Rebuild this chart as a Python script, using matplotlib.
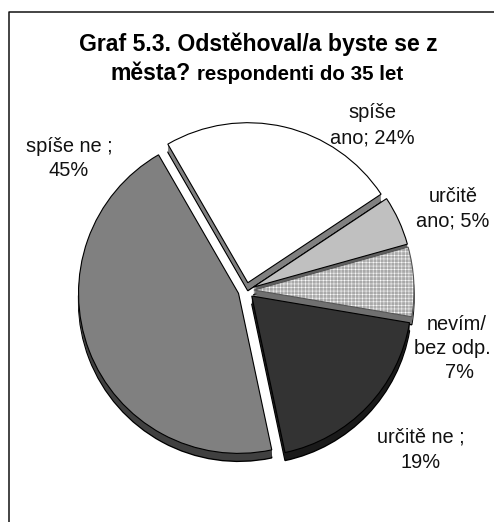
import matplotlib
matplotlib.use("Agg")
import matplotlib.pyplot as plt

plt.rcParams["font.family"] = ["Liberation Sans", "DejaVu Sans"]
plt.rcParams["hatch.linewidth"] = 0.18

# reading order is clockwise from the upper left
categories = ["spíše ano", "určitě ano", "nevím/bez odp.", "určitě ne", "spíše ne"]
values = [24, 5, 7, 19, 45]
tops = ["#ffffff", "#c0c0c0", "#ffffff", "#333333", "#808080"]
sides = ["#808080", "#606060", "#707070", "#1a1a1a", "#404040"]
hatches = [None, None, "++++++++++++", None, None]
H = 522
cx, cy = 246, 290.5
depth = 8

fig = plt.figure(figsize=(4.94, 5.22), dpi=100)
ax = fig.add_axes([0, 0, 1, 1])


def draw(colors, dy, edge, lw, hatch=False):
    wedges, _ = ax.pie(values, colors=colors, explode=[8] * 5, radius=160, startangle=120,
                       counterclock=False, center=(cx, H - cy - dy),
                       wedgeprops=dict(edgecolor=edge, linewidth=lw), frame=True)
    if hatch:
        for w, h in zip(wedges, hatches):
            if h:
                w.set_hatch(h)
                w.set_edgecolor("#555555")


# extruded side of the pie, then the top face
draw(sides, depth, "black", 1.0)
for d in range(depth - 1, 0, -1):
    draw(sides, d, "none", 0)
draw(tops, 0, "black", 0.8, hatch=True)

ax.set_xlim(0, 494)
ax.set_ylim(0, H)
ax.set_aspect("auto")
ax.set_xticks([])
ax.set_yticks([])
for s in ax.spines.values():
    s.set_visible(False)

# chart frame, only left and top edges are inside the picture
ax.plot([8.5, 8.5, 494], [0, H - 11.5, H - 11.5], color="#111111", lw=1.1)


def px(x, y, s, **kw):
    ax.text(x, H - y, s, va="center", **kw)


px(258.5, 44, "Graf 5.3. Odstěhoval/a byste se z", ha="center", fontsize=16.6, fontweight="bold")
px(110, 73, "města?", ha="left", fontsize=16.6, fontweight="bold")
px(197, 74, "respondenti do 35 let", ha="left", fontsize=14.8, fontweight="bold")

lab = dict(ha="center", fontsize=14.4, color="#111111")
px(372, 112, "spíše", **lab)
px(372, 138, "ano; 24%", **lab)
px(453, 196, "určitě", **lab)
px(453, 221, "ano; 5%", **lab)
px(457, 324, "nevím/", **lab)
px(452, 349, "bez odp.", **lab)
px(459, 373, "7%", **lab)
px(421, 437, "určitě ne ;", **lab)
px(421, 462, "19%", **lab)
px(69, 146, "spíše ne ;", **lab)
px(69, 170, "45%", **lab)

fig.savefig("out.png", dpi=100)
